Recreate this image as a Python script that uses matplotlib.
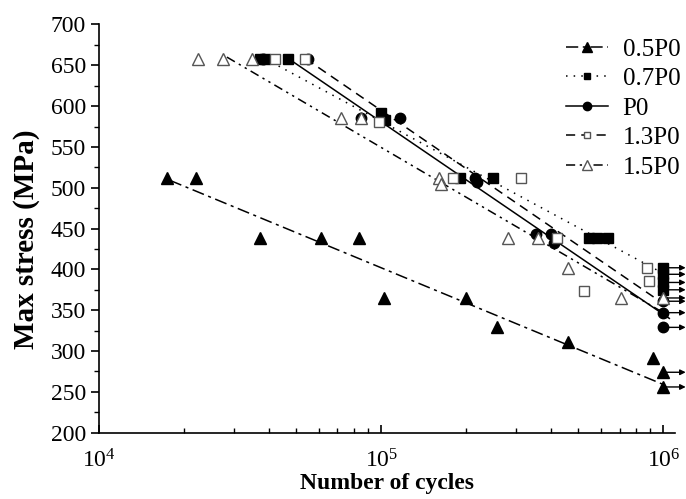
import matplotlib
matplotlib.use("Agg")
import matplotlib.pyplot as plt
from matplotlib.lines import Line2D
from matplotlib.ticker import MultipleLocator, LogLocator, NullFormatter

# S-N data (cycles, max stress in MPa)
n_05 = [17400, 22100, 37300, 61200, 83600, 102000, 200000, 257000, 460000, 922000]
s_05 = [512, 512, 438, 438, 438, 365, 365, 329, 311, 292]
run_05 = [274, 256]

n_07 = [37300, 38800, 46800, 100000, 103000, 190000, 249000, 545000, 580000, 635000]
s_07 = [658, 658, 658, 591, 583, 512, 512, 438, 438, 438]
run_07 = [402, 394, 384, 375]

n_p0 = [38000, 55000, 85000, 117000, 215000, 218000, 355000, 400000, 410000]
s_p0 = [658, 658, 585, 585, 512, 507, 443, 443, 432]
run_p0 = [361, 347, 329]

n_13 = [42100, 53700, 98000, 180000, 313000, 420000, 525000, 877000, 890000]
s_13 = [658, 658, 581, 512, 512, 438, 373, 402, 386]
run_13 = []

n_15 = [22400, 27500, 34900, 72100, 85000, 160000, 163000, 282000, 360000, 460000, 710000]
s_15 = [658, 658, 658, 585, 585, 512, 505, 438, 438, 402, 365]
run_15 = [365]

# fitted lines, end points
fit_05 = ([17850, 1.0e6], [509, 259])
fit_07 = ([38800, 1.0e6], [658, 395])
fit_p0 = ([47000, 1.05e6], [658, 340])
fit_13 = ([54000, 1.04e6], [658, 354])
fit_15 = ([28400, 1.0e6], [660, 347])

runout_n = 1.0e6
arrow_end = 1.2e6

labels = ["0.5P0", "0.7P0", "P0", "1.3P0", "1.5P0"]

plt.rcParams["font.family"] = ["Liberation Serif", "DejaVu Serif"]
plt.rcParams["mathtext.fontset"] = "stix"

fig = plt.figure(figsize=(6.86, 4.99), dpi=100)
ax = fig.add_axes([0.1443, 0.1329, 0.8397, 0.8181])

styles = [
    dict(ls=(0, (8, 3, 2, 3)), marker="^", ms=8.5, mfc="black", mec="black"),
    dict(ls=(0, (1, 4)), marker="s", ms=6.5, mfc="black", mec="black"),
    dict(ls="-", marker="o", ms=7.5, mfc="black", mec="black"),
    dict(ls=(0, (6, 4)), marker="s", ms=6.5, mfc="white", mec="#555555"),
    dict(ls=(0, (6, 3, 1.5, 3, 1.5, 3)), marker="^", ms=8.5, mfc="white", mec="#555555"),
]
series = [
    (n_05, s_05, run_05, fit_05),
    (n_07, s_07, run_07, fit_07),
    (n_p0, s_p0, run_p0, fit_p0),
    (n_13, s_13, run_13, fit_13),
    (n_15, s_15, run_15, fit_15),
]

handles = []
for (n, s, run, fit), st, lab in zip(series, styles, labels):
    ax.plot(fit[0], fit[1], ls=st["ls"], color="black", lw=1.1, zorder=2)
    for lvl in run:
        ax.annotate("", xy=(arrow_end, lvl), xytext=(runout_n, lvl),
                    arrowprops=dict(arrowstyle="-|>", color="black", lw=1.0,
                                    mutation_scale=8, shrinkA=0, shrinkB=0),
                    annotation_clip=False, zorder=2)
    ax.plot(list(n) + [runout_n] * len(run), list(s) + list(run), ls="none",
            marker=st["marker"], ms=st["ms"], mfc=st["mfc"], mec=st["mec"],
            mew=1.0, zorder=3, clip_on=False)
    handles.append(Line2D([], [], color="black", lw=1.1, ls=st["ls"],
                          marker=st["marker"], ms=st["ms"] - 1.5, mfc=st["mfc"],
                          mec=st["mec"], mew=1.0))

ax.set_xscale("log")
ax.set_xlim(1e4, 1.1e6)
ax.set_ylim(200, 700)
ax.yaxis.set_major_locator(MultipleLocator(50))
ax.yaxis.set_minor_locator(MultipleLocator(25))
ax.xaxis.set_major_locator(LogLocator(base=10, numticks=10))
ax.xaxis.set_minor_locator(LogLocator(base=10, subs=range(2, 10), numticks=20))
ax.xaxis.set_minor_formatter(NullFormatter())

ax.spines["top"].set_visible(False)
ax.spines["right"].set_visible(False)
for sp in ("left", "bottom"):
    ax.spines[sp].set_linewidth(1.2)
ax.tick_params(axis="y", which="major", direction="out", length=6, width=1.2, labelsize=17)
ax.tick_params(axis="y", which="minor", direction="out", length=3.5, width=1.0)
ax.tick_params(axis="x", which="major", direction="in", length=6, width=1.2, labelsize=17, pad=12)
ax.tick_params(axis="x", which="minor", direction="in", length=3.5, width=1.0)

ax.set_xlabel("Number of cycles", fontsize=17, fontweight="bold", labelpad=0)
ax.set_ylabel("Max stress (MPa)", fontsize=21, fontweight="bold")
ax.yaxis.set_label_coords(-0.102, 0.475)

ax.legend(handles, labels, loc="upper right", bbox_to_anchor=(1.035, 1.003),
          frameon=False, fontsize=18, handlelength=1.65, handletextpad=0.6,
          labelspacing=0.28, borderaxespad=0.2)

fig.savefig("out.png", dpi=100)
